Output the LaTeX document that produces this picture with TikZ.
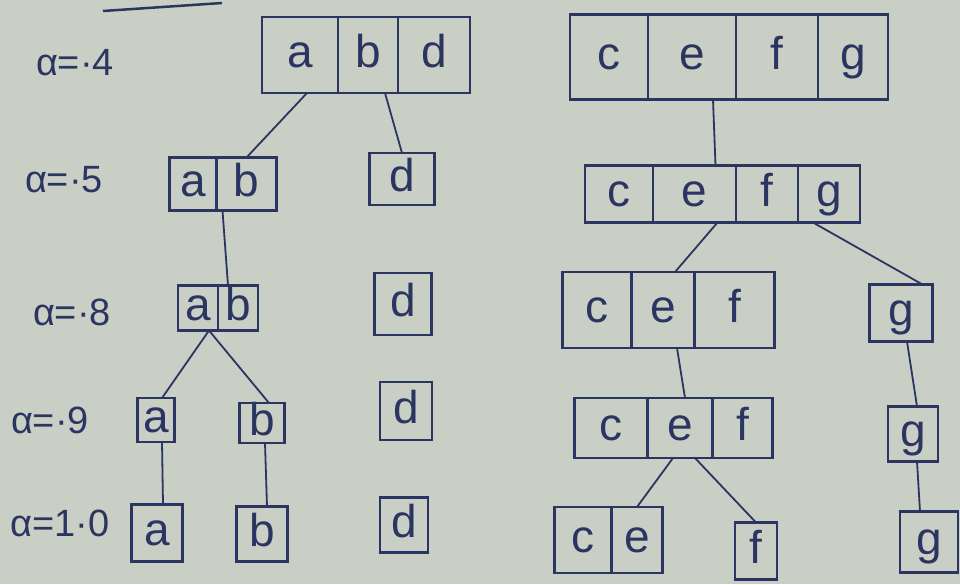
\documentclass[tikz,border=0pt]{standalone}
\usepackage{fontspec}
\setmainfont{Liberation Sans}
\usetikzlibrary{positioning}
\definecolor{paper}{HTML}{C9CFC4}
\definecolor{ink}{HTML}{2B3561}
\tikzset{
  cell/.style={
    draw=ink,
    line width=2.2pt,
    inner sep=0pt,
    outer sep=0pt,
    text=ink,
    text height=24pt,
    text depth=0pt,
    font=\fontsize{46}{50}\selectfont
  },
  level/.style={
    text=ink,
    font=\fontsize{38}{42}\selectfont
  },
  link/.style={
    draw=ink,
    line width=1.8pt
  }
}

\begin{document}
\begin{tikzpicture}[x=1pt,y=-1pt]
\fill[paper] (0,0) rectangle (960,584);
\useasboundingbox (0,0) rectangle (960,584);

% stroke at the top
\coordinate (ul0) at (103,11);
\coordinate (ul1) at (222,3);
\draw[link, line width=2.5pt] (ul0) -- (ul1);

% alpha = .4
\node[level] (al4) at (75,63) {α=·4};
\node[cell, minimum width=76pt, minimum height=76pt] (l1a) at (300,55) {a};
\node[cell, minimum width=60pt, minimum height=76pt, right=0pt of l1a] (l1b) {b};
\node[cell, minimum width=72pt, minimum height=76pt, right=0pt of l1b] (l1d) {d};
\node[cell, minimum width=78pt, minimum height=85pt] (l1c) at (609,57) {c};
\node[cell, minimum width=88pt, minimum height=85pt, right=0pt of l1c] (l1e) {e};
\node[cell, minimum width=82pt, minimum height=85pt, right=0pt of l1e] (l1f) {f};
\node[cell, minimum width=70pt, minimum height=85pt, right=0pt of l1f] (l1g) {g};

% alpha = .5
\node[level] (al5) at (64,180) {α=·5};
\node[cell, minimum width=47pt, minimum height=53pt] (l2a) at (193,184) {a};
\node[cell, minimum width=60pt, minimum height=53pt, right=0pt of l2a] (l2b) {b};
\node[cell, minimum width=65pt, minimum height=52pt] (l2d) at (402,179) {d};
\node[cell, minimum width=68pt, minimum height=57pt] (l2c) at (619,194) {c};
\node[cell, minimum width=83pt, minimum height=57pt, right=0pt of l2c] (l2e) {e};
\node[cell, minimum width=62pt, minimum height=57pt, right=0pt of l2e] (l2f) {f};
\node[cell, minimum width=62pt, minimum height=57pt, right=0pt of l2f] (l2g) {g};

% alpha = .8
\node[level] (al8) at (72,312) {α=·8};
\node[cell, minimum width=40pt, minimum height=45pt] (l3a) at (198,308) {a};
\node[cell, minimum width=40pt, minimum height=45pt, right=0pt of l3a] (l3b) {b};
\node[cell, minimum width=57pt, minimum height=62pt] (l3d) at (403,304) {d};
\node[cell, minimum width=69pt, minimum height=76pt] (l3c) at (597,310) {c};
\node[cell, minimum width=63pt, minimum height=76pt, right=0pt of l3c] (l3e) {e};
\node[cell, minimum width=80pt, minimum height=76pt, right=0pt of l3e] (l3f) {f};
\node[cell, minimum width=63pt, minimum height=57pt] (l3g) at (901,313) {g};

% alpha = .9
\node[level] (al9) at (50,420) {α=·9};
\node[cell, minimum width=37pt, minimum height=44pt] (l4a) at (156,420) {a};
\node[cell, minimum width=45pt, minimum height=40pt] (l4b) at (262,423) {b};
\node[cell, minimum width=52pt, minimum height=58pt] (l4d) at (406,411) {d};
\node[cell, minimum width=73pt, minimum height=60pt] (l4c) at (611,428) {c};
\node[cell, minimum width=65pt, minimum height=60pt, right=0pt of l4c] (l4e) {e};
\node[cell, minimum width=60pt, minimum height=60pt, right=0pt of l4e] (l4f) {f};
\node[cell, minimum width=50pt, minimum height=55pt] (l4g) at (913,434) {g};

% alpha = 1.0
\node[level] (al10) at (60,523) {α=1·0};
\node[cell, minimum width=51pt, minimum height=57pt] (l5a) at (157,533) {a};
\node[cell, minimum width=51pt, minimum height=55pt] (l5b) at (262,534) {b};
\node[cell, minimum width=48pt, minimum height=55pt] (l5d) at (404,525) {d};
\node[cell, minimum width=57pt, minimum height=66pt] (l5c) at (583,540) {c};
\node[cell, minimum width=51pt, minimum height=66pt, right=0pt of l5c] (l5e) {e};
\node[cell, minimum width=42pt, minimum height=57pt] (l5f) at (756,551) {f};
\node[cell, minimum width=58pt, minimum height=61pt] (l5g) at (929,542) {g};

% splits
\draw[link] ([xshift=7pt]l1a.south) -- (l2b.north);
\draw[link] ([xshift=17pt]l1b.south) -- (l2d.north);
\draw[link] ([xshift=21pt]l1e.south) -- ([xshift=21pt]l2e.north);
\draw[link] ([xshift=-24pt]l2b.south) -- ([xshift=-10pt]l3b.north);
\draw[link] ([xshift=23pt]l2e.south) -- ([xshift=12pt]l3e.north);
\draw[link] ([xshift=-16pt]l2g.south) -- ([xshift=-10pt]l3g.north east);
\draw[link] ([xshift=-9pt]l3a.south east) -- ([xshift=6pt]l4a.north);
\draw[link] ([xshift=-9pt]l3a.south east) -- ([xshift=7pt]l4b.north);
\draw[link] ([xshift=14pt]l3e.south) -- ([xshift=5pt]l4e.north);
\draw[link] ([xshift=6pt]l3g.south) -- ([xshift=4pt]l4g.north);
\draw[link] ([xshift=6pt]l4a.south) -- ([xshift=6pt]l5a.north);
\draw[link] ([xshift=3pt]l4b.south) -- ([xshift=5pt]l5b.north);
\draw[link] ([xshift=-7pt]l4e.south) -- (l5e.north);
\draw[link] ([xshift=15pt]l4e.south) -- (l5f.north);
\draw[link] ([xshift=4pt]l4g.south) -- ([xshift=-9pt]l5g.north);
\end{tikzpicture}
\end{document}
